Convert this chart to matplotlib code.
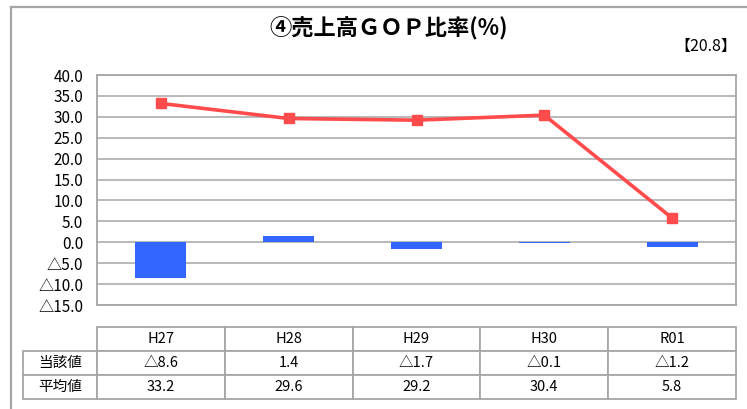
import matplotlib
matplotlib.use("Agg")
import matplotlib.pyplot as plt
from matplotlib.lines import Line2D

plt.rcParams["font.family"] = ["Noto Sans CJK JP", "DejaVu Sans"]

years = ["H27", "H28", "H29", "H30", "R01"]
current = [-8.6, 1.4, -1.7, -0.1, -1.2]   # 当該値
average = [33.2, 29.6, 29.2, 30.4, 5.8]   # 平均値
row_labels = ["当該値", "平均値"]
yticks = [40, 35, 30, 25, 20, 15, 10, 5, 0, -5, -10, -15]
title = "④売上高ＧＯＰ比率(%)"
note = "【20.8】"


def fmt(v):
    # negative numbers shown with a triangle, Japanese style
    return f"△{abs(v):.1f}" if v < 0 else f"{v:.1f}"


W, H = 747, 409
fig = plt.figure(figsize=(W / 100, H / 100), dpi=100)
fig.patch.set_facecolor("white")

# outer chart frame (cut off at right/bottom)
frame_c = "#a6a6a6"
fig.add_artist(Line2D([10.5 / W, 10.5 / W], [0, 1 - 7 / H], color=frame_c, lw=1.6,
                      transform=fig.transFigure))
fig.add_artist(Line2D([10.5 / W, 1], [1 - 7 / H, 1 - 7 / H], color=frame_c, lw=1.6,
                      transform=fig.transFigure))

# plot area
x0, x1, ytop, ybot = 97, 736, 75, 305
ax = fig.add_axes([x0 / W, 1 - ybot / H, (x1 - x0) / W, (ybot - ytop) / H])

x = list(range(len(years)))
ax.bar(x, current, width=0.4, color="#3366ff", zorder=2)
ax.plot(x, average, color="#ff4b4b", lw=2.6, marker="s", markersize=7,
        zorder=3, solid_capstyle="butt")

ax.set_xlim(-0.5, len(years) - 0.5)
ax.set_ylim(-15, 40)
ax.set_yticks(yticks)
ax.set_yticklabels([fmt(v) for v in yticks], fontsize=11)
ax.set_xticks([])
ax.tick_params(axis="y", length=0, pad=10)
ax.grid(axis="y", color="#a6a6a6", lw=1.1, zorder=0)
for s in ax.spines.values():
    s.set_color("#a6a6a6")
    s.set_linewidth(1.3)

# data table under the plot (first column holds the row labels)
tb_top, tb_bot, tb_left = 327, 399, 23
cell_text = [[lab] + [fmt(v) for v in vals]
             for lab, vals in zip(row_labels, [current, average])]
col_w = (x1 - x0) / len(years)
total_w = x1 - tb_left
tbl = ax.table(cellText=cell_text, colLabels=[""] + years,
               colWidths=[(x0 - tb_left) / total_w] + [col_w / total_w] * len(years),
               cellLoc="center",
               bbox=[(tb_left - x0) / (x1 - x0), (ybot - tb_bot) / (ybot - ytop),
                     total_w / (x1 - x0), (tb_bot - tb_top) / (ybot - ytop)])
tbl.auto_set_font_size(False)
tbl.set_fontsize(10.5)
for (r, c), cell in tbl.get_celld().items():
    cell.set_edgecolor("#a6a6a6")
    cell.set_linewidth(1.3)
tbl[0, 0].set_visible(False)

fig.text(389 / W, 1 - 29 / H, title, ha="center", va="center",
         fontsize=16, fontweight="bold")
fig.text(737 / W, 1 - 46 / H, note, ha="right", va="center", fontsize=11.5)

fig.savefig("out.png", dpi=100)
